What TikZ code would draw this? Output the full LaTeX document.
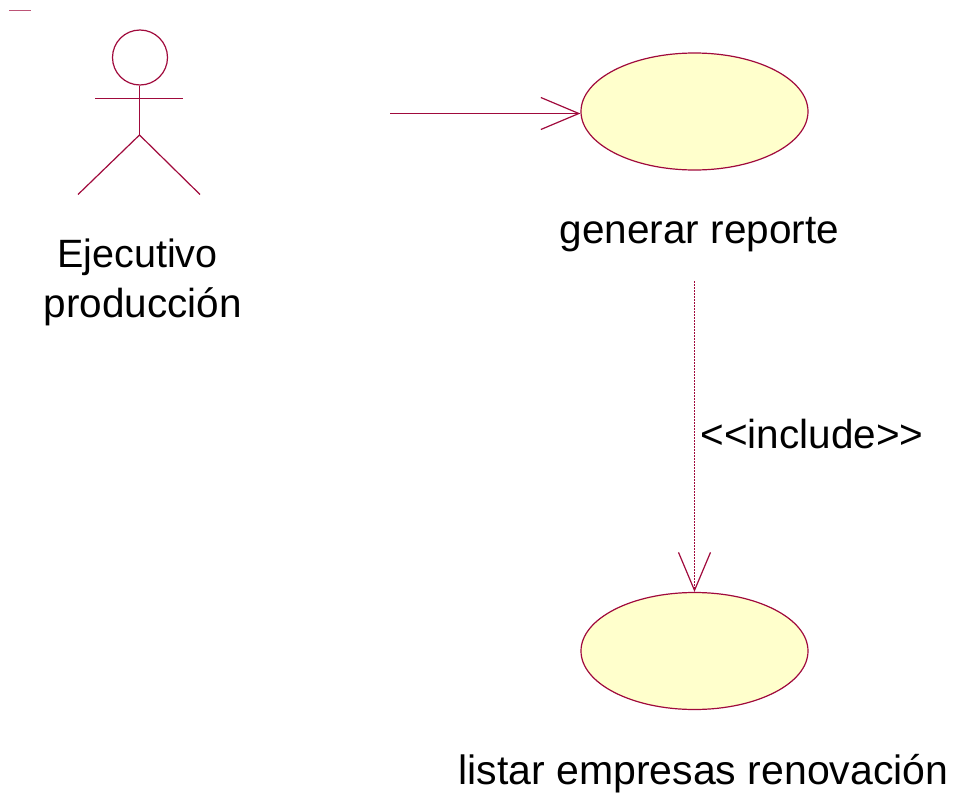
\documentclass[tikz,border=0pt]{standalone}
\usepackage{fontspec}
\setmainfont{Liberation Sans}
\usetikzlibrary{arrows.meta,shapes.geometric}
\definecolor{rose}{RGB}{160,10,60}
\definecolor{ucfill}{RGB}{255,255,204}
\tikzset{
  line/.style={draw=rose,line width=1.2pt},
  usecase/.style={ellipse,draw=rose,line width=1.2pt,fill=ucfill,minimum width=227pt,minimum height=117pt,inner sep=0pt},
  label/.style={font=\fontsize{40.5}{49}\selectfont,text=black,inner sep=0pt,align=center},
  open/.style={-{Straight Barb[length=38pt,width=32pt,line width=1.2pt]}},
}
\begin{document}
\begin{tikzpicture}[x=1pt,y=-1pt]
\useasboundingbox (0,0) rectangle (967,803);
\draw[line,opacity=.7] (9,10.5) -- (31,10.5);
% actor
\node[circle,draw=rose,line width=1.2pt,minimum size=55pt,inner sep=0pt] (head) at (140,57.5) {};
\coordinate (hip) at (139.5,135);
\coordinate (armL) at (95,98.5);
\coordinate (armR) at (183,98.5);
\coordinate (footL) at (78,194.5);
\coordinate (footR) at (200,194.5);
\draw[line] (head.south -| hip) -- (hip);
\draw[line] (armL) -- (armR);
\draw[line] (footL) -- (hip) -- (footR);
% use cases
\node[usecase] (uc1) at (694.5,111.5) {};
\node[usecase] (uc2) at (694.5,651) {};
% labels
\node[label,anchor=base,font=\fontsize{39.5}{49}\selectfont] (actorA) at (137.5,267) {Ejecutivo};
\node[label,anchor=base] (actorB) at (143,317) {producción};
\node[label,anchor=base] (lab1) at (699.5,243) {generar reporte};
\node[label,anchor=base,font=\fontsize{41}{49}\selectfont] (lab2) at (703.5,784) {listar empresas renovación};
\node[label,anchor=base] (inc) at (812,448) {<{}<include>{}>};
% connectors
\coordinate (assocStart) at (390,113.5);
\coordinate (incStart) at (694.5,281);
\draw[line,open] (assocStart) -- (uc1.west |- assocStart);
\draw[line,dash pattern=on 1.6pt off 1.4pt,open] (incStart) -- (incStart |- uc2.north);
\end{tikzpicture}
\end{document}
